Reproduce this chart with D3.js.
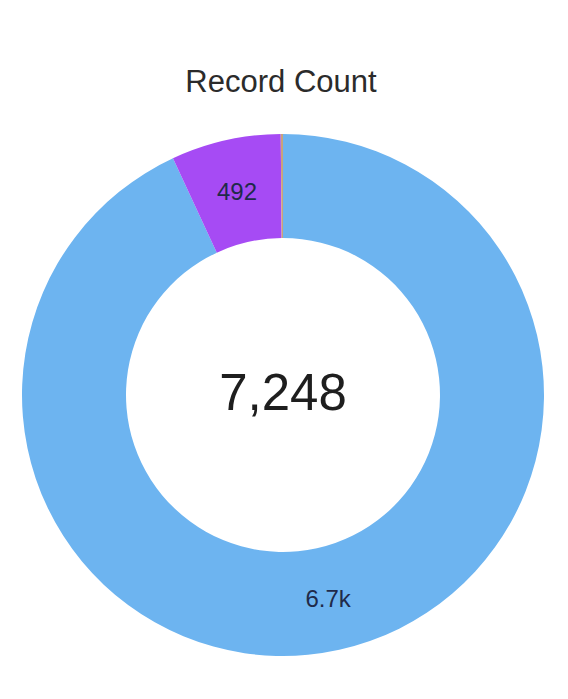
<!DOCTYPE html>
<html lang="en">
<head>
<meta charset="UTF-8">
<title>Record Count</title>
<script src="https://d3js.org/d3.v7.min.js"></script>
<style>
  body { margin: 0; background: #fff; }
  text { font-family: "Liberation Sans", Arial, Helvetica, sans-serif; }
</style>
</head>
<body>
<svg id="chart"></svg>
<script>
const categories = ["A", "B", "C"];
const values = [6746, 492, 10];
const labels = ["6.7k", "492", ""];
const colors = ["#6db4f0", "#a64bf4", "#c9a27c"];
const title = "Record Count";

const width = 568, height = 699;
const cx = 283, cy = 395;
const outerR = 261, innerR = 157;

const svg = d3.select("#chart")
  .attr("width", width)
  .attr("height", height);

svg.append("text")
  .attr("x", 281)
  .attr("y", 92)
  .attr("text-anchor", "middle")
  .attr("font-size", 31)
  .attr("fill", "#2b2b2b")
  .text(title);

const g = svg.append("g").attr("transform", `translate(${cx},${cy})`);

const data = categories.map((c, i) => ({ key: c, value: values[i], label: labels[i] }));

const pie = d3.pie().value(d => d.value).sort(null);
const arc = d3.arc().innerRadius(innerR).outerRadius(outerR);
const color = d3.scaleOrdinal().domain(categories).range(colors);

const arcs = pie(data);

g.selectAll("path")
  .data(arcs)
  .enter()
  .append("path")
  .attr("d", arc)
  .attr("fill", d => color(d.data.key));

g.selectAll(".slice-label")
  .data(arcs)
  .enter()
  .append("text")
  .attr("class", "slice-label")
  .attr("transform", d => `translate(${arc.centroid(d)})`)
  .attr("text-anchor", "middle")
  .attr("dy", "0.35em")
  .attr("font-size", 24)
  .attr("fill", "#1f2a4a")
  .text(d => d.data.label);

const total = d3.sum(values);
g.append("text")
  .attr("text-anchor", "middle")
  .attr("y", 15)
  .attr("font-size", 51)
  .attr("fill", "#1e1e1e")
  .text(d3.format(",")(total));
</script>
</body>
</html>
